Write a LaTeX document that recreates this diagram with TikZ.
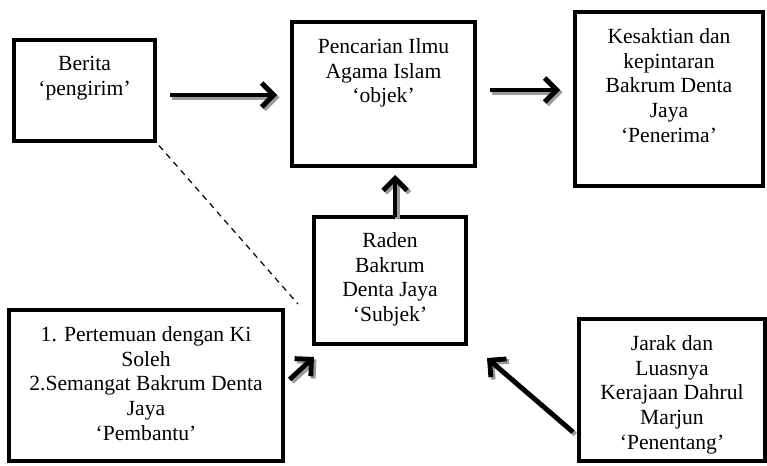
\documentclass[tikz,border=0pt]{standalone}
\usepackage{fontspec}
\setmainfont{Liberation Serif}
\usetikzlibrary{positioning,calc,arrows.meta}
\definecolor{garis}{HTML}{000000}
\definecolor{bayang}{HTML}{9A9A9A}
\tikzset{
  kotak/.style={draw=garis, line width=2.3pt, inner sep=0pt, outer sep=0pt},
  isi/.style={inner sep=0pt, align=center, font=\fontsize{10.8}{12.4}\selectfont},
  panah/.style={draw=garis, line width=2.4pt, -{Straight Barb[length=6pt,width=12pt]}},
  bayangan/.style={draw=bayang},
  putus/.style={draw=garis, line width=0.6pt, dash pattern=on 3pt off 2.5pt}
}

\begin{document}
\begin{tikzpicture}[x=0.5pt,y=-0.5pt]
  \useasboundingbox (0,0) rectangle (767,466);

  % kotak-kotak
  \node[kotak, minimum width=70.5pt, minimum height=50.5pt] (berita) at (84.5,90.5) {};
  \node[kotak, minimum width=91.5pt, minimum height=72pt] (objek) at (383.5,94) {};
  \node[kotak, minimum width=94pt, minimum height=87pt] (penerima) at (669,99) {};
  \node[kotak, line width=2pt, minimum width=76pt, minimum height=63.5pt] (subjek) at (390,280.5) {};
  \node[kotak, minimum width=137pt, minimum height=75.5pt] (pembantu) at (146,385.5) {};
  \node[kotak, minimum width=93pt, minimum height=71pt] (penentang) at (672,390) {};

  % isi
  \node[isi, below=8pt of berita.north] (tberita) {Berita\\`pengirim'};
  \node[isi, below=8pt of objek.north] (tobjek) {Pencarian Ilmu\\Agama Islam\\`objek'};
  \node[isi, below=8pt of penerima.north] (tpenerima) {Kesaktian dan\\kepintaran\\Bakrum Denta\\Jaya\\`Penerima'};
  \node[isi, below=7.5pt of subjek.north] (tsubjek) {Raden\\Bakrum\\Denta Jaya\\`Subjek'};
  \node[isi, below=8pt of pembantu.north] (tpembantu) {1. Pertemuan dengan Ki\\Soleh\\2.Semangat Bakrum Denta\\Jaya\\`Pembantu'};
  \node[isi, below=8pt of penentang.north] (tpenentang) {Jarak dan\\Luasnya\\Kerajaan Dahrul\\Marjun\\`Penentang'};

  % panah, bayangan dulu
  \foreach \warna/\geser in {bayangan/1.2pt, garis/0pt} {
    \begin{scope}[transform canvas={xshift=\geser, yshift=-\geser}]
      \draw[panah, \warna, shorten <=7.5pt, shorten >=7.5pt] ($(berita.east)+(0,4.5)$) -- ($(objek.west)+(0,1)$);
      \draw[panah, \warna, shorten <=7.5pt, shorten >=7.5pt] ($(objek.east)+(0,-4)$) -- ($(penerima.west)+(0,-9)$);
      \draw[panah, \warna, shorten >=4.5pt] ($(subjek.north)+(5,0)$) -- ($(objek.south)+(11.5,0)$);
      \draw[panah, \warna, shorten <=4.5pt] (pembantu.east) -- ($(subjek.south west)+(0,13)$);
      \draw[panah, \warna] ($(penentang.south west)+(-6,-29)$) -- ($(subjek.south east)+(21,14)$);
    \end{scope}
  }
  \draw[putus, shorten <=3pt] (berita.south east) -- ($(subjek.west)+(-16,23.5)$);
\end{tikzpicture}
\end{document}
